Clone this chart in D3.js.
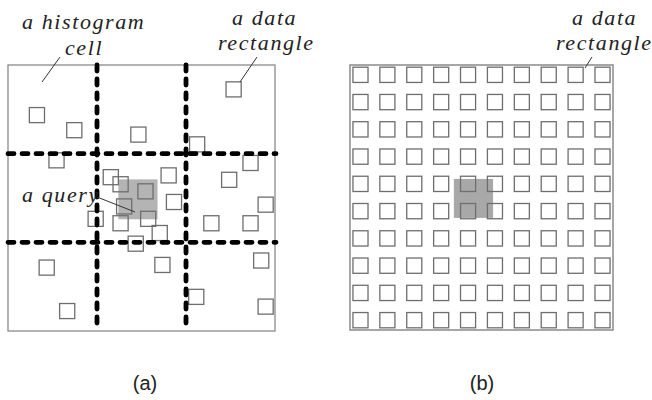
<!DOCTYPE html>
<html>
<head>
<meta charset="utf-8">
<script src="https://cdn.jsdelivr.net/npm/d3@7"></script>
<style>
  body { margin: 0; background: #fff; }
  .note { font-family: "Liberation Serif", "DejaVu Serif", serif; font-style: italic; font-size: 22px; letter-spacing: 1.6px; fill: #222; }
  .caption { font-family: "Liberation Sans", Arial, sans-serif; font-size: 20px; fill: #222; }
</style>
</head>
<body>
<svg id="chart" width="652" height="400"></svg>
<script>
"use strict";

/*** data ***/

// (a) histogram: 3x3 cells, rectangles given as [x, y] of top-left corner in cell units
var cellCount = 3;
var cellBreaks = [1, 2];
var rectSize = 0.17;
var rectsA = [
  [2.45, 0.19], [0.24, 0.48], [0.66, 0.65], [1.38, 0.70], [2.04, 0.81],
  [0.46, 0.99], [2.64, 1.02], [1.07, 1.18], [1.72, 1.16], [2.40, 1.21],
  [1.18, 1.26], [1.46, 1.34], [1.78, 1.46], [2.81, 1.49], [1.22, 1.51],
  [0.90, 1.65], [1.18, 1.70], [1.49, 1.65], [2.20, 1.70], [2.64, 1.70],
  [1.62, 1.81], [1.35, 1.93], [1.65, 2.17], [0.35, 2.20], [2.76, 2.12],
  [2.03, 2.53], [0.58, 2.69], [2.81, 2.64]
];
// query window in (a): [x0, y0, x1, y1]
var queryA = [1.24, 1.29, 1.68, 1.74];

// (b) uniform 10x10 grid of rectangles
var gridIdx = d3.range(10);
// query window in (b), in grid units (0..10)
var queryB = [3.95, 4.30, 5.44, 5.77];

var captions = ["(a)", "(b)"];


/*** scales ***/

var svg = d3.select("#chart");

var xA = d3.scaleLinear().domain([0, cellCount]).range([8, 275]);
var yA = d3.scaleLinear().domain([0, cellCount]).range([65, 331]);

var xB = d3.scaleLinear().domain([0, 10]).range([350, 613]);
var yB = d3.scaleLinear().domain([0, 10]).range([65, 330]);
var bandX = d3.scaleBand().domain(gridIdx).range([350, 613]).paddingInner(0.44).paddingOuter(0.11);
var bandY = d3.scaleBand().domain(gridIdx).range([65, 330]).paddingInner(0.44).paddingOuter(0.08);


/*** panel (a) ***/

var gA = svg.append("g");

// query window goes under the rectangles
gA.append("rect")
  .attr("x", xA(queryA[0]))
  .attr("y", yA(queryA[1]))
  .attr("width", xA(queryA[2]) - xA(queryA[0]))
  .attr("height", yA(queryA[3]) - yA(queryA[1]))
  .attr("fill", "#b4b4b4");

gA.append("rect")
  .attr("x", xA(0))
  .attr("y", yA(0))
  .attr("width", xA(cellCount) - xA(0))
  .attr("height", yA(cellCount) - yA(0))
  .attr("fill", "none")
  .attr("stroke", "#8a8a8a")
  .attr("stroke-width", 1.3);

gA.selectAll("rect.data")
  .data(rectsA)
  .enter()
  .append("rect")
  .attr("class", "data")
  .attr("x", function(d) { return xA(d[0]); })
  .attr("y", function(d) { return yA(d[1]); })
  .attr("width", xA(rectSize) - xA(0))
  .attr("height", yA(rectSize) - yA(0))
  .attr("fill", "none")
  .attr("stroke", "#6e6e6e")
  .attr("stroke-width", 1.3);

// histogram cell boundaries, thick dashed
var dash = { "stroke": "#000", "stroke-width": 4.8, "stroke-dasharray": "6,8", "stroke-linecap": "round" };

gA.selectAll("line.hcut")
  .data(cellBreaks)
  .enter()
  .append("line")
  .attr("class", "hcut")
  .attr("x1", xA(0)).attr("x2", xA(cellCount) + 1)
  .attr("y1", function(d) { return yA(d); })
  .attr("y2", function(d) { return yA(d); })
  .attr("stroke", dash["stroke"]).attr("stroke-width", dash["stroke-width"])
  .attr("stroke-dasharray", dash["stroke-dasharray"]).attr("stroke-linecap", dash["stroke-linecap"]);

gA.selectAll("line.vcut")
  .data(cellBreaks)
  .enter()
  .append("line")
  .attr("class", "vcut")
  .attr("y1", yA(0)).attr("y2", yA(cellCount))
  .attr("x1", function(d) { return xA(d); })
  .attr("x2", function(d) { return xA(d); })
  .attr("stroke", dash["stroke"]).attr("stroke-width", dash["stroke-width"])
  .attr("stroke-dasharray", dash["stroke-dasharray"]).attr("stroke-linecap", dash["stroke-linecap"]);

// annotations
gA.append("text").attr("class", "note").attr("x", 22).attr("y", 29).text("a histogram");
gA.append("text").attr("class", "note").attr("x", 65).attr("y", 55).text("cell");
gA.append("line").attr("x1", 60).attr("y1", 57).attr("x2", 42).attr("y2", 82)
  .attr("stroke", "#333").attr("stroke-width", 1);

gA.append("text").attr("class", "note").attr("x", 232).attr("y", 25).text("a data");
gA.append("text").attr("class", "note").attr("x", 218).attr("y", 50).text("rectangle");
gA.append("line").attr("x1", 257).attr("y1", 57).attr("x2", 240).attr("y2", 82)
  .attr("stroke", "#333").attr("stroke-width", 1);

gA.append("text").attr("class", "note").attr("x", 22).attr("y", 202).text("a query");
gA.append("line").attr("x1", 97).attr("y1", 197).attr("x2", 135).attr("y2", 212)
  .attr("stroke", "#333").attr("stroke-width", 1);


/*** panel (b) ***/

var gB = svg.append("g");

gB.append("rect")
  .attr("x", xB(queryB[0]))
  .attr("y", yB(queryB[1]))
  .attr("width", xB(queryB[2]) - xB(queryB[0]))
  .attr("height", yB(queryB[3]) - yB(queryB[1]))
  .attr("fill", "#a8a8a8");

gB.append("rect")
  .attr("x", xB(0))
  .attr("y", yB(0))
  .attr("width", xB(10) - xB(0))
  .attr("height", yB(10) - yB(0))
  .attr("fill", "none")
  .attr("stroke", "#8a8a8a")
  .attr("stroke-width", 1.5);

var cells = [];
gridIdx.forEach(function(r) { gridIdx.forEach(function(c) { cells.push([c, r]); }); });

gB.selectAll("rect.data")
  .data(cells)
  .enter()
  .append("rect")
  .attr("class", "data")
  .attr("x", function(d) { return bandX(d[0]); })
  .attr("y", function(d) { return bandY(d[1]); })
  .attr("width", bandX.bandwidth())
  .attr("height", bandY.bandwidth())
  .attr("fill", "none")
  .attr("stroke", "#6e6e6e")
  .attr("stroke-width", 1.3);

gB.append("text").attr("class", "note").attr("x", 572).attr("y", 25).text("a data");
gB.append("text").attr("class", "note").attr("x", 556).attr("y", 50).text("rectangle");
gB.append("line").attr("x1", 592).attr("y1", 57).attr("x2", 585).attr("y2", 68)
  .attr("stroke", "#333").attr("stroke-width", 1);


/*** captions ***/

svg.selectAll("text.caption")
  .data(captions)
  .enter()
  .append("text")
  .attr("class", "caption")
  .attr("text-anchor", "middle")
  .attr("x", function(d, i) { return i == 0 ? 145 : 482; })
  .attr("y", 390)
  .text(function(d) { return d; });
</script>
</body>
</html>
